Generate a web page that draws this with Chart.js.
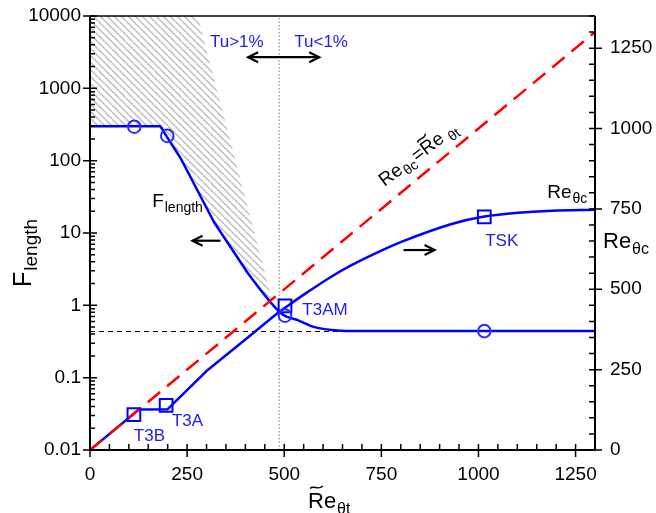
<!DOCTYPE html>
<html>
<head>
<meta charset="utf-8">
<script src="https://cdn.jsdelivr.net/npm/chart.js@4.4.0/dist/chart.umd.min.js"></script>
<style>
  html, body { margin: 0; padding: 0; background: #fff; }
</style>
</head>
<body>
<canvas id="chartFlength" width="656" height="513"></canvas>
<script>
// F_length vs Re_theta_t (left, log axis): Tu > 1% branch and Tu < 1% branch
const reThetaT = [0, 181, 200, 233, 319, 406, 440, 466, 487];
const fLength = [300, 300, 205, 109, 14.2, 2.8, 1.6, 1.08, 0.81];
const reThetaTLow = [487, 503, 536, 578, 622, 700, 1300];
const fLengthLow = [0.81, 0.71, 0.62, 0.50, 0.457, 0.44, 0.44];

// Re_theta_c vs Re_theta_t (right, linear axis)
const reThetaTc = [0, 126, 200, 303, 400, 487];
const reThetaC = [0, 126, 127, 249, 344, 430];
const reThetaTcHigh = [487, 560, 621, 672, 750, 803, 931, 1015, 1103, 1190, 1300];
const reThetaCHigh = [430, 491, 539, 574, 620, 648, 703, 726, 738, 744, 747];

// Re_theta_c = Re_theta_t reference line
const identityX = [0, 1300];
const identityY = [0, 1300];

// hatched region upper edge (left axis)
const hatchX = [0, 277, 472];
const hatchY = [10000, 10000, 1.0];

// limit value of F_length and Tu = 1% boundary
const fLimitX = [0, 1300];
const fLimitY = [0.435, 0.435];
const tuBoundX = [487, 487];
const tuBoundY = [0.01, 10000];

// correlation markers
const circleX = [114, 199, 502, 1015];
const circleY = [295, 220, 0.72, 0.44];
const squareX = [113, 196, 502, 1015];
const squareY = [110, 139, 448, 725];

// axes
const xTickValues = [0, 250, 500, 750, 1000, 1250];
const rightTickValues = [0, 250, 500, 750, 1000, 1250];
const leftTickValues = [0.01, 0.1, 1, 10, 100, 1000, 10000];
const leftTickLabels = ['0.01', '0.1', '1', '10', '100', '1000', '10000'];

const FONT = '"Liberation Sans", Arial, sans-serif';
const BLUE = '#0000ff';
const TXT_BLUE = '#2020f0';

const pts = (xs, ys) => xs.map((x, i) => ({ x: x, y: ys[i] }));

function hatchPattern() {
    const c = document.createElement('canvas');
    c.width = 7; c.height = 7;
    const g = c.getContext('2d');
    g.strokeStyle = '#b9b9b9';
    g.lineWidth = 1.3;
    for (const k of [-7, 0, 7]) {
        g.beginPath();
        g.moveTo(k, 0);
        g.lineTo(k + 7, 7);
        g.stroke();
    }
    return g.createPattern(c, 'repeat');
}

// text with subscript, returns width
function subText(ctx, x, y, main, sub, size, color, ratio) {
    ctx.fillStyle = color;
    ctx.textAlign = 'left';
    ctx.textBaseline = 'alphabetic';
    ctx.font = size + 'px ' + FONT;
    ctx.fillText(main, x, y);
    const w = ctx.measureText(main).width;
    const ss = Math.round(size * (ratio || 0.72));
    ctx.font = ss + 'px ' + FONT;
    ctx.fillText(sub, x + w + 1, y + size * 0.25);
    return w + 1 + ctx.measureText(sub).width;
}

function tilde(ctx, x, y, w, color) {
    ctx.save();
    ctx.strokeStyle = color;
    ctx.lineWidth = 1.4;
    ctx.beginPath();
    ctx.moveTo(x, y + 1.5);
    ctx.bezierCurveTo(x + w * 0.3, y - 2.5, x + w * 0.6, y + 4, x + w, y - 1);
    ctx.stroke();
    ctx.restore();
}

function arrow(ctx, x1, y1, x2, y2, both) {
    const head = (xa, ya, dir) => {
        ctx.beginPath();
        ctx.moveTo(xa - dir * 10, ya - 5);
        ctx.lineTo(xa, ya);
        ctx.lineTo(xa - dir * 10, ya + 5);
        ctx.stroke();
    };
    ctx.save();
    ctx.strokeStyle = '#000';
    ctx.lineWidth = 2.2;
    ctx.beginPath();
    ctx.moveTo(x1, y1);
    ctx.lineTo(x2, y2);
    ctx.stroke();
    head(x2, y2, x2 > x1 ? 1 : -1);
    if (both) head(x1, y1, x1 > x2 ? 1 : -1);
    ctx.restore();
}

const decorations = {
    id: 'decorations',
    afterDraw(chart) {
        const { ctx, chartArea: a } = chart;
        const sx = chart.scales.x, sl = chart.scales.yL, sr = chart.scales.yR;
        ctx.save();

        // frame
        ctx.strokeStyle = '#000';
        ctx.lineWidth = 2;
        ctx.beginPath();
        ctx.moveTo(a.left, a.top); ctx.lineTo(a.left, a.bottom);
        ctx.lineTo(a.right, a.bottom); ctx.lineTo(a.right, a.top);
        ctx.stroke();
        ctx.lineWidth = 1.5;
        ctx.beginPath();
        ctx.moveTo(a.left, a.top); ctx.lineTo(a.right, a.top);
        ctx.stroke();

        // tick marks
        ctx.lineWidth = 1.5;
        ctx.beginPath();
        for (let v = 0; v <= 1300; v += 50) {
            const px = sx.getPixelForValue(v);
            const major = v % 250 === 0;
            ctx.moveTo(px, a.bottom - 6);
            ctx.lineTo(px, a.bottom + (major ? 7 : 0));
        }
        for (let v = 0; v <= 1350; v += 50) {
            const py = sr.getPixelForValue(v);
            const major = v % 250 === 0;
            ctx.moveTo(a.right - 6, py);
            ctx.lineTo(a.right + (major ? 7 : 0), py);
        }
        for (let d = -2; d <= 4; d++) {
            for (let m = 1; m <= 9; m++) {
                const v = m * Math.pow(10, d);
                if (v > 10000) break;
                const py = sl.getPixelForValue(v);
                ctx.moveTo(a.left + (m === 1 ? 7 : 5), py);
                ctx.lineTo(a.left - (m === 1 ? 7 : 0), py);
            }
        }
        ctx.stroke();

        // arrows
        const X = v => sx.getPixelForValue(v);
        const R = v => sr.getPixelForValue(v);
        arrow(ctx, X(407), R(1222), X(590), R(1222), true);
        arrow(ctx, X(336), R(651), X(264), R(651), false);
        arrow(ctx, X(807), R(622), X(887), R(622), false);

        // blue labels
        ctx.fillStyle = TXT_BLUE;
        ctx.font = '17px ' + FONT;
        ctx.textAlign = 'center';
        ctx.textBaseline = 'middle';
        ctx.fillText('Tu>1%', X(378), R(1269));
        ctx.fillText('Tu<1%', X(595), R(1269));
        ctx.fillText('TSK', X(1060), R(650));
        ctx.fillText('T3AM', X(605), R(435));
        ctx.fillText('T3A', X(251), R(90));
        ctx.fillText('T3B', X(153), R(44));

        // black curve labels
        subText(ctx, X(160), R(756), 'F', 'length', 19, '#000');
        subText(ctx, X(1177), R(784), 'Re', 'θc', 19, '#000');

        // rotated identity label
        ctx.save();
        ctx.translate(X(758), R(818));
        ctx.rotate(-37 * Math.PI / 180);
        let w = subText(ctx, 0, 0, 'Re', 'θc', 19, '#000');
        ctx.font = '19px ' + FONT;
        ctx.fillText('=', w + 1, 0);
        w += 1 + ctx.measureText('=').width;
        const rw = ctx.measureText('R').width;
        tilde(ctx, w + 1, -17, rw - 2, '#000');
        w += subText(ctx, w, 0, 'Re', ' θt', 19, '#000');
        ctx.restore();

        // axis titles
        ctx.save();
        ctx.translate(31, 287);
        ctx.rotate(-Math.PI / 2);
        subText(ctx, 0, 0, 'F', 'length', 25, '#000', 0.74);
        ctx.restore();

        subText(ctx, 603, 248, 'Re', 'θc', 22, '#000');

        ctx.font = '22px ' + FONT;
        const brw = ctx.measureText('R').width;
        tilde(ctx, 310, 487, brw - 3, '#000');
        subText(ctx, 308, 508, 'Re', 'θt', 22, '#000');

        ctx.restore();
    }
};

const lineBase = { showLine: true, pointRadius: 0, borderJoinStyle: 'round', fill: false };
const noPad = s => { s.paddingTop = 0; s.paddingBottom = 0; s.paddingLeft = 0; s.paddingRight = 0; };

new Chart(document.getElementById('chartFlength'), {
    type: 'line',
    data: {
        datasets: [
            Object.assign({}, lineBase, {
                label: 'F_length',
                data: pts(reThetaT, fLength),
                yAxisID: 'yL',
                borderColor: BLUE,
                borderWidth: 2.5,
                order: 2
            }),
            Object.assign({}, lineBase, {
                label: 'hatch',
                data: pts(hatchX, hatchY),
                yAxisID: 'yL',
                borderWidth: 0,
                borderColor: 'rgba(0,0,0,0)',
                backgroundColor: hatchPattern(),
                fill: '-1',
                order: 10
            }),
            Object.assign({}, lineBase, {
                label: 'F_length (Tu < 1%)',
                data: pts(reThetaTLow, fLengthLow),
                yAxisID: 'yL',
                borderColor: BLUE,
                borderWidth: 2.5,
                cubicInterpolationMode: 'monotone',
                order: 2
            }),
            Object.assign({}, lineBase, {
                label: 'Re_theta_c',
                data: pts(reThetaTc, reThetaC),
                yAxisID: 'yR',
                borderColor: BLUE,
                borderWidth: 2.5,
                order: 3
            }),
            Object.assign({}, lineBase, {
                label: 'Re_theta_c (Tu < 1%)',
                data: pts(reThetaTcHigh, reThetaCHigh),
                yAxisID: 'yR',
                borderColor: BLUE,
                borderWidth: 2.5,
                cubicInterpolationMode: 'monotone',
                order: 3
            }),
            Object.assign({}, lineBase, {
                label: 'Re_theta_c = Re_theta_t',
                data: pts(identityX, identityY),
                yAxisID: 'yR',
                borderColor: '#ff0000',
                borderWidth: 2.5,
                borderDash: [16, 9],
                order: 1
            }),
            Object.assign({}, lineBase, {
                label: 'limit',
                data: pts(fLimitX, fLimitY),
                yAxisID: 'yL',
                borderColor: '#000',
                borderWidth: 1.2,
                borderDash: [5, 4],
                order: 5
            }),
            Object.assign({}, lineBase, {
                label: 'Tu 1%',
                data: pts(tuBoundX, tuBoundY),
                yAxisID: 'yL',
                borderColor: '#888',
                borderWidth: 1.1,
                borderDash: [1.5, 2],
                order: 6
            }),
            {
                label: 'circles',
                data: pts(circleX, circleY),
                yAxisID: 'yL',
                showLine: false,
                pointStyle: 'circle',
                pointRadius: 6.3,
                pointBorderWidth: 2,
                pointBorderColor: '#2b2bff',
                pointBackgroundColor: 'rgba(0,0,0,0)',
                order: 0
            },
            {
                label: 'squares',
                data: pts(squareX, squareY),
                yAxisID: 'yR',
                showLine: false,
                pointStyle: 'rect',
                pointRadius: 9,
                pointBorderWidth: 2,
                pointBorderColor: BLUE,
                pointBackgroundColor: 'rgba(0,0,0,0)',
                order: 0
            }
        ]
    },
    options: {
        responsive: false,
        animation: false,
        devicePixelRatio: 1,
        layout: { padding: { top: 16, left: 0, right: 0, bottom: 0 } },
        plugins: {
            legend: { display: false },
            tooltip: { enabled: false },
            title: { display: false }
        },
        scales: {
            x: {
                type: 'linear',
                position: 'bottom',
                min: 0,
                max: 1300,
                grid: { display: false, drawTicks: false },
                border: { display: false },
                afterBuildTicks: s => { s.ticks = xTickValues.map(v => ({ value: v })); },
                afterFit: s => { s.height = 63; noPad(s); },
                ticks: {
                    color: '#000',
                    font: { size: 19, family: FONT },
                    padding: 13,
                    maxRotation: 0,
                    callback: v => String(v)
                }
            },
            yL: {
                type: 'logarithmic',
                position: 'left',
                min: 0.01,
                max: 10000,
                grid: { display: false, drawTicks: false },
                border: { display: false },
                afterBuildTicks: s => { s.ticks = leftTickValues.map(v => ({ value: v })); },
                afterFit: s => { s.width = 90; noPad(s); },
                ticks: {
                    color: '#000',
                    font: { size: 19, family: FONT },
                    padding: 9,
                    callback: (v, i) => leftTickLabels[i]
                }
            },
            yR: {
                type: 'linear',
                position: 'right',
                min: 0,
                max: 1350,
                grid: { display: false, drawTicks: false },
                border: { display: false },
                afterBuildTicks: s => { s.ticks = rightTickValues.map(v => ({ value: v })); },
                afterFit: s => { s.width = 61; noPad(s); },
                ticks: {
                    color: '#000',
                    font: { size: 19, family: FONT },
                    padding: 15,
                    callback: v => String(v)
                }
            }
        }
    },
    plugins: [decorations]
});
</script>
</body>
</html>
